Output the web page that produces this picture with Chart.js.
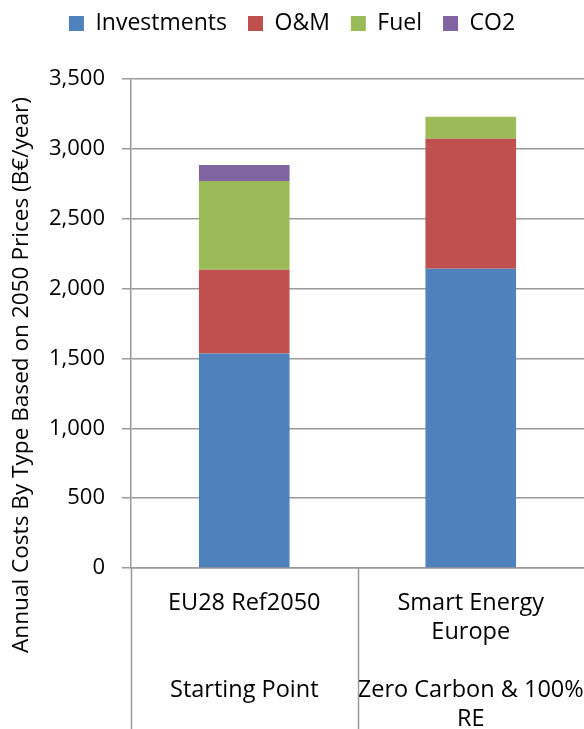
<!DOCTYPE html>
<html>
<head>
<meta charset="utf-8">
<script src="https://cdn.jsdelivr.net/npm/chart.js@4.4.1/dist/chart.umd.min.js"></script>
<style>
  html, body { margin: 0; padding: 0; background: #ffffff; }
  #wrap { width: 584px; height: 729px; position: relative; }
</style>
</head>
<body>
<div id="wrap"><canvas id="chart"></canvas></div>
<script>
// Scenario categories (two-level labels: scenario name / description)
const categories = [
  ['EU28 Ref2050', '', '', 'Starting Point', ''],
  ['Smart Energy', 'Europe', '', 'Zero Carbon & 100%', 'RE']
];

// Annual costs by type (B€/year)
const investments = [1536, 2141];
const oandm       = [598, 931];
const fuel        = [636, 158];
const co2         = [115, 0];

const seriesNames  = ['Investments', 'O&M', 'Fuel', 'CO2'];
const seriesColors = ['#4F81BD', '#C0504D', '#9BBB59', '#8064A2'];

const yTitle = 'Annual Costs By Type Based on 2050 Prices (B€/year)';
const FONT = "'Open Sans', 'DejaVu Sans', sans-serif";
const GRID = '#9a9a9a';

// Rotated axis title and the separators on the left edge of each category,
// running down through the label area
const decorations = {
  id: 'decorations',
  beforeInit(chart) {
    const fit = chart.legend.fit;
    chart.legend.fit = function () {
      fit.call(this);
      this.height = 88;
    };
  },
  afterDraw(chart) {
    const ctx = chart.ctx;
    const x = chart.scales.x;
    const area = chart.chartArea;
    ctx.save();
    ctx.strokeStyle = GRID;
    ctx.lineWidth = 1.5;
    for (let i = 0; i < categories.length; i++) {
      const px = Math.round(x.getPixelForValue(i - 0.5)) + 0.5;
      ctx.beginPath();
      ctx.moveTo(px, area.bottom);
      ctx.lineTo(px, chart.height);
      ctx.stroke();
    }
    ctx.translate(22, 375);
    ctx.rotate(-Math.PI / 2);
    ctx.fillStyle = '#000000';
    ctx.font = '22.6px ' + FONT;
    ctx.textAlign = 'center';
    ctx.textBaseline = 'middle';
    ctx.fillText(yTitle, 0, 0);
    ctx.restore();
  }
};

const values = [investments, oandm, fuel, co2];

new Chart(document.getElementById('chart'), {
  type: 'bar',
  data: {
    labels: categories,
    datasets: seriesNames.map((name, i) => ({
      label: name,
      data: values[i],
      backgroundColor: seriesColors[i],
      borderWidth: 0,
      categoryPercentage: 1.0,
      barPercentage: 0.4
    }))
  },
  options: {
    responsive: true,
    maintainAspectRatio: false,
    animation: false,
    layout: { padding: { top: -9, right: 0, left: 0, bottom: 0 } },
    plugins: {
      legend: {
        position: 'top',
        labels: {
          boxWidth: 15,
          boxHeight: 15,
          padding: 21,
          color: '#000000',
          font: { family: FONT, size: 23 }
        }
      },
      tooltip: { enabled: false }
    },
    scales: {
      x: {
        stacked: true,
        offset: true,
        grid: { display: false },
        border: { display: true, color: GRID, width: 1.5 },
        ticks: {
          color: '#000000',
          padding: 13,
          maxRotation: 0,
          autoSkip: false,
          font: { family: FONT, size: 23.5, lineHeight: 1.23 }
        },
        afterFit(scale) {
          scale.height = 161;
          scale.paddingLeft = 0;
          scale.paddingRight = 0;
        }
      },
      y: {
        stacked: true,
        min: 0,
        max: 3500,
        grid: { color: GRID, lineWidth: 1.5, tickLength: 9 },
        border: { display: true, color: GRID, width: 1.5 },
        ticks: {
          stepSize: 500,
          padding: 17,
          color: '#000000',
          font: { family: FONT, size: 22 },
          callback: v => v.toLocaleString('en-US')
        },
        afterFit(scale) {
          scale.width = 131;
          scale.paddingTop = 0;
          scale.paddingBottom = 0;
        }
      }
    }
  },
  plugins: [decorations]
});
</script>
</body>
</html>
